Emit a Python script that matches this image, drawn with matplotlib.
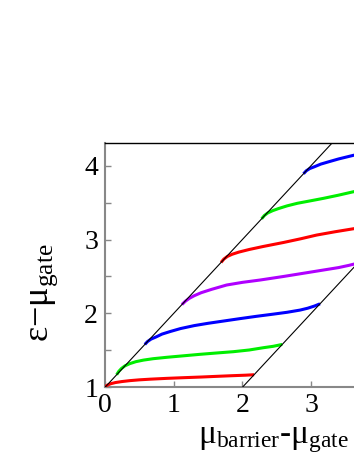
import matplotlib
matplotlib.use("Agg")
import matplotlib.pyplot as plt
from matplotlib.ticker import MultipleLocator, FixedLocator

plt.rcParams["font.family"] = ["Liberation Serif", "DejaVu Serif"]
plt.rcParams["mathtext.fontset"] = "custom"
plt.rcParams["mathtext.rm"] = "Liberation Serif"
plt.rcParams["mathtext.it"] = "Liberation Serif"

# boundary lines
left_x = [0, 3.32]
left_y = [1, 4.32]
right_x = [2, 4]
right_y = [1, 3]

# levels
red1_x = [0, 0.02, 0.05, 0.09, 0.15, 0.24, 0.36, 0.5, 0.66, 0.9, 1.14, 1.4, 1.62, 1.85, 2.05, 2.17]
red1_y = [1, 1.02, 1.036, 1.05, 1.064, 1.077, 1.09, 1.101, 1.11, 1.121, 1.13, 1.139, 1.148, 1.157, 1.164, 1.17]
green1_x = [0.17, 0.2, 0.24, 0.29, 0.36, 0.45, 0.56, 0.7, 0.9, 1.14, 1.38, 1.62, 1.87, 2.1, 2.3, 2.45, 2.58]
green1_y = [1.17, 1.215, 1.255, 1.29, 1.32, 1.347, 1.368, 1.387, 1.406, 1.426, 1.446, 1.464, 1.482, 1.505, 1.535, 1.555, 1.58]
blue1_x = [0.58, 0.62, 0.67, 0.74, 0.83, 0.95, 1.1, 1.3, 1.5, 1.75, 1.97, 2.2, 2.45, 2.65, 2.84, 2.95, 3.05, 3.13]
blue1_y = [1.58, 1.62, 1.652, 1.68, 1.72, 1.755, 1.795, 1.835, 1.866, 1.9, 1.93, 1.96, 1.99, 2.015, 2.045, 2.07, 2.1, 2.13]
purple_x = [1.12, 1.17, 1.23, 1.3, 1.4, 1.55, 1.77, 2.0, 2.26, 2.6, 2.9, 3.18, 3.4, 3.55, 3.68]
purple_y = [2.12, 2.165, 2.205, 2.24, 2.28, 2.325, 2.384, 2.42, 2.452, 2.5, 2.545, 2.587, 2.62, 2.65, 2.68]
red2_x = [1.69, 1.73, 1.78, 1.85, 1.95, 2.1, 2.3, 2.6, 2.85, 3.08, 3.35, 3.62, 3.8]
red2_y = [2.69, 2.735, 2.77, 2.8, 2.83, 2.865, 2.905, 2.96, 3.01, 3.06, 3.105, 3.146, 3.17]
green2_x = [2.28, 2.32, 2.37, 2.44, 2.53, 2.65, 2.8, 3.0, 3.18, 3.4, 3.62, 3.8]
green2_y = [3.28, 3.325, 3.36, 3.39, 3.42, 3.455, 3.49, 3.525, 3.557, 3.6, 3.647, 3.67]
blue2_x = [2.89, 2.93, 2.98, 3.05, 3.14, 3.25, 3.4, 3.62, 3.8]
blue2_y = [3.89, 3.93, 3.96, 3.985, 4.02, 4.05, 4.09, 4.14, 4.16]

x_ticks = [0, 1, 2, 3]
y_ticks = [1, 2, 3, 4]

levels = [
    (red1_x, red1_y, "#ff0000"),
    (green1_x, green1_y, "#00ee00"),
    (blue1_x, blue1_y, "#0000ff"),
    (purple_x, purple_y, "#b000ff"),
    (red2_x, red2_y, "#ff0000"),
    (green2_x, green2_y, "#00ee00"),
    (blue2_x, blue2_y, "#0000ff"),
]

fig = plt.figure(figsize=(3.54, 4.58), dpi=100)
ax = fig.add_axes([105 / 354, 70.7 / 458, 4 * 68.7 / 354, 244.3 / 458])

for xs, ys, c in levels:
    ax.plot(xs, ys, color=c, lw=2.2, solid_capstyle="butt", zorder=3)
ax.plot(left_x, left_y, color="black", lw=0.8, zorder=4)
ax.plot(right_x, right_y, color="black", lw=0.8, zorder=4)

ax.set_xlim(0, 4)
ax.set_ylim(1, 1 + 244.3 / 73.9)
ax.xaxis.set_major_locator(FixedLocator(x_ticks))
ax.yaxis.set_major_locator(FixedLocator(y_ticks))
ax.yaxis.set_minor_locator(MultipleLocator(0.5))

ax.spines["top"].set_color("black")
ax.spines["top"].set_linewidth(1.0)
for s in ["left", "bottom"]:
    ax.spines[s].set_color("#888888")
    ax.spines[s].set_linewidth(1.5)
ax.spines["right"].set_visible(False)

ax.tick_params(which="both", direction="in", color="#888888", width=1,
               length=4, labelsize=20, top=False, right=False)
ax.tick_params(axis="y", pad=5)
ax.tick_params(axis="x", pad=4)

fig.text(44 / 354, 1 - 293 / 458, r"$\mathrm{\varepsilon}{-}\mathrm{\mu}_{\mathrm{gate}}$",
         rotation=90, ha="center", va="center", fontsize=26)
fig.text(273 / 354, 1 - 440 / 458, r"$\mathrm{\mu}_{\mathrm{barrier}}$-$\mathrm{\mu}_{\mathrm{gate}}$",
         ha="center", va="center", fontsize=24)

fig.savefig("out.png", dpi=100)
